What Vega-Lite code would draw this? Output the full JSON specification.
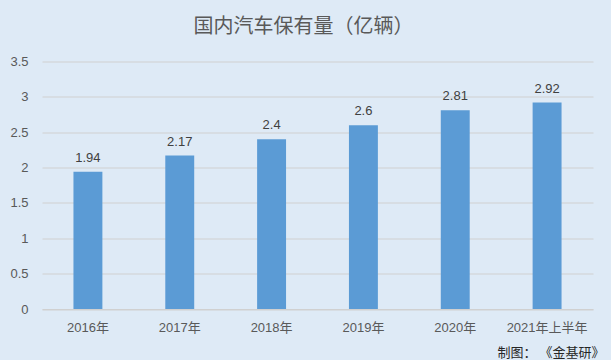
{
  "$schema": "https://vega.github.io/schema/vega-lite/v6.json",
  "autosize": "none",
  "width": 551,
  "height": 247.5,
  "padding": {"left": 42, "top": 61.5, "right": 18, "bottom": 51},
  "background": "#DEEAF6",
  "config": {
    "view": {"stroke": null},
    "font": "Liberation Sans, Noto Sans CJK SC",
    "text": {"font": "Liberation Sans, Noto Sans CJK SC"}
  },
  "title": {
    "text": "国内汽车保有量（亿辆）",
    "font": "Noto Sans CJK SC",
    "fontSize": 20,
    "fontWeight": "normal",
    "color": "#595959",
    "anchor": "middle",
    "dx": -14,
    "offset": 19
  },
  "data": {
    "values": [
      {"year": "2016年", "value": 1.94},
      {"year": "2017年", "value": 2.17},
      {"year": "2018年", "value": 2.4},
      {"year": "2019年", "value": 2.6},
      {"year": "2020年", "value": 2.81},
      {"year": "2021年上半年", "value": 2.92}
    ]
  },
  "encoding": {
    "x": {
      "field": "year",
      "type": "nominal",
      "sort": null,
      "scale": {"paddingInner": 0.685, "paddingOuter": 0.3425},
      "axis": {
        "title": "制图： 《金基研》",
        "titleFont": "Noto Sans CJK SC",
        "titleFontSize": 13,
        "titleFontWeight": "normal",
        "titleColor": "#262626",
        "titleAnchor": "end",
        "titleAlign": "right",
        "titleBaseline": "middle",
        "titleX": 562,
        "titleY": 43,
        "labelAngle": 0,
        "labelFontSize": 13,
        "labelColor": "#595959",
        "labelPadding": 12,
        "ticks": false,
        "domainColor": "#D0D0D0",
        "domainWidth": 1
      }
    },
    "y": {
      "field": "value",
      "type": "quantitative",
      "scale": {"domain": [0, 3.5]},
      "axis": {
        "title": null,
        "values": [0, 0.5, 1, 1.5, 2, 2.5, 3, 3.5],
        "format": "~g",
        "labelFontSize": 13,
        "labelColor": "#595959",
        "labelPadding": 14,
        "ticks": false,
        "domain": false,
        "gridColor": "#D0D0D0",
        "gridWidth": 1
      }
    }
  },
  "layer": [
    {"mark": {"type": "bar", "color": "#5B9BD5"}},
    {
      "mark": {"type": "text", "dy": -14, "fontSize": 13, "color": "#404040"},
      "encoding": {"text": {"field": "value", "type": "quantitative"}}
    }
  ]
}
